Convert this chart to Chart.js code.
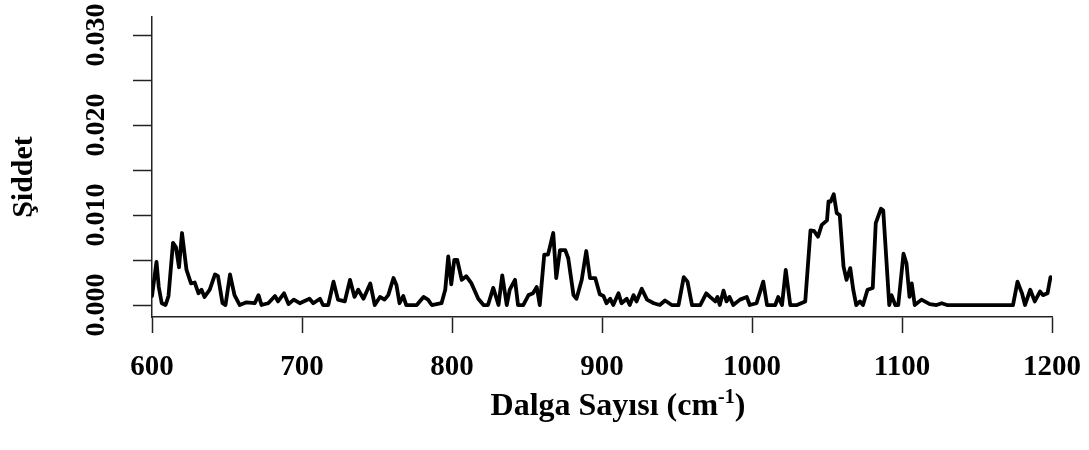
<!DOCTYPE html>
<html>
<head>
<meta charset="utf-8">
<script src="https://cdn.jsdelivr.net/npm/chart.js@4"></script>
<style>
    html, body { margin: 0; padding: 0; background: #ffffff; }
    #wrap { width: 1089px; height: 450px; }
</style>
</head>
<body>
<div id="wrap"><canvas id="spectrumChart" width="1089" height="450"></canvas></div>
<script>
// Spectrum samples: wavenumber (cm-1) and intensity
const wavenumber = [
    600, 603, 604.5, 606.5, 609, 611, 614, 616, 618, 620, 623, 626, 628.5, 631, 633, 635, 638.5, 642, 644, 647,
    649, 652, 655, 658.5, 663, 668.5, 671, 673, 677.5, 682, 684, 688, 691, 694.5, 698.5, 705, 707.5, 712, 714, 717.5,
    721, 724, 728.5, 732, 735, 737.5, 741, 745.5, 748.5, 752, 755, 757.5, 761, 763, 765, 767.5, 769.5, 776.5, 781, 784,
    786.5, 793, 795.5, 797.5, 799.5, 801.5, 803.5, 806.5, 809.5, 813, 817.5, 821, 824, 827.5, 831, 833.5, 836.5, 838.5, 842, 844,
    847.5, 851, 854, 856.5, 858.5, 861.5, 864, 867.5, 869.5, 872, 875.5, 877.5, 881, 883, 886.5, 889.5, 892, 895.5, 898.5, 901,
    903, 905.5, 907.5, 911, 913, 916.5, 918.5, 921, 923, 926.5, 930, 934.5, 938.5, 942, 946.5, 951, 954.5, 957, 960, 965.5,
    969.5, 972, 975.5, 977, 978.5, 981, 983, 985, 987.5, 992, 996.5, 998.5, 1003, 1007.5, 1010, 1015.5, 1017.5, 1020, 1022.5, 1025.5,
    1030, 1035.5, 1039, 1041.5, 1044, 1046.5, 1050, 1051, 1052.5, 1054.5, 1056.5, 1058.5, 1061, 1063, 1065.5, 1067.5, 1069.5, 1072, 1074, 1077,
    1080.5, 1082.5, 1086, 1087.5, 1091.5, 1093, 1095.5, 1097.5, 1101, 1103, 1105, 1106.5, 1108.5, 1113, 1118.5, 1123, 1126.5, 1130, 1174, 1177,
    1180, 1182, 1185.5, 1188.5, 1192, 1194, 1197, 1199
];
const intensity = [
    0.0010, 0.0048, 0.0020, 0.0002, 0.0000, 0.0010, 0.0069, 0.0064, 0.0042, 0.0080, 0.0039, 0.0024, 0.0025, 0.0013, 0.0017, 0.0009, 0.0017, 0.0034, 0.0032, 0.0002,
    0.0000, 0.0034, 0.0011, 0.0000, 0.0003, 0.0002, 0.0011, 0.0000, 0.0002, 0.0010, 0.0004, 0.0013, 0.0001, 0.0006, 0.0002, 0.0007, 0.0002, 0.0007, 0.0000, 0.0000,
    0.0026, 0.0006, 0.0004, 0.0028, 0.0009, 0.0017, 0.0007, 0.0024, 0.0000, 0.0009, 0.0006, 0.0011, 0.0030, 0.0022, 0.0002, 0.0010, 0.0000, 0.0000, 0.0009, 0.0006,
    0.0000, 0.0002, 0.0017, 0.0054, 0.0023, 0.0050, 0.0050, 0.0028, 0.0032, 0.0024, 0.0007, 0.0000, 0.0000, 0.0019, 0.0000, 0.0033, 0.0000, 0.0017, 0.0028, 0.0000,
    0.0000, 0.0011, 0.0013, 0.0020, 0.0000, 0.0056, 0.0056, 0.0080, 0.0030, 0.0061, 0.0061, 0.0052, 0.0011, 0.0007, 0.0028, 0.0060, 0.0030, 0.0030, 0.0012, 0.0010,
    0.0002, 0.0007, 0.0000, 0.0013, 0.0002, 0.0007, 0.0000, 0.0011, 0.0004, 0.0018, 0.0006, 0.0002, 0.0000, 0.0005, 0.0000, 0.0000, 0.0031, 0.0026, 0.0000, 0.0000,
    0.0013, 0.0009, 0.0004, 0.0009, 0.0000, 0.0016, 0.0004, 0.0009, 0.0000, 0.0006, 0.0009, 0.0000, 0.0002, 0.0026, 0.0000, 0.0000, 0.0009, 0.0000, 0.0039, 0.0000,
    0.0000, 0.0004, 0.0083, 0.0082, 0.0076, 0.0089, 0.0094, 0.0115, 0.0115, 0.0123, 0.0102, 0.0100, 0.0043, 0.0028, 0.0041, 0.0017, 0.0000, 0.0004, 0.0000, 0.0017,
    0.0019, 0.0091, 0.0107, 0.0105, 0.0000, 0.0011, 0.0000, 0.0000, 0.0057, 0.0046, 0.0009, 0.0024, 0.0000, 0.0006, 0.0001, 0.0000, 0.0002, 0.0000, 0.0000, 0.0026,
    0.0013, 0.0000, 0.0017, 0.0004, 0.0015, 0.0011, 0.0013, 0.0031
];

// Axis ticks
const xTicks = [600, 700, 800, 900, 1000, 1100, 1200];
const yTicks = [0, 0.005, 0.010, 0.015, 0.020, 0.025, 0.030];
const yTickLabels = ["0.000", "", "0.010", "", "0.020", "", "0.030"];

const xTitle = "Dalga Sayısı (cm";
const xTitleSup = "-1";
const yTitle = "Şiddet";

const SERIF = "'Liberation Serif', 'Times New Roman', serif";

// Rotated y labels and the axis titles are drawn by hand
const axisText = {
    id: "axisText",
    afterDraw(chart) {
        const ctx = chart.ctx;
        const y = chart.scales.y;
        ctx.save();
        ctx.fillStyle = "#000";

        // y tick labels, parallel to the axis
        ctx.font = "bold 28px " + SERIF;
        ctx.textAlign = "center";
        ctx.textBaseline = "middle";
        yTicks.forEach((v, i) => {
            if (!yTickLabels[i]) return;
            ctx.save();
            ctx.translate(97, y.getPixelForValue(v));
            ctx.rotate(-Math.PI / 2);
            ctx.fillText(yTickLabels[i], 0, 0);
            ctx.restore();
        });

        // y title
        ctx.font = "bold 30px " + SERIF;
        ctx.save();
        ctx.translate(24, 177);
        ctx.rotate(-Math.PI / 2);
        ctx.fillText(yTitle, 0, 0);
        ctx.restore();

        // x title with superscript
        const mainFont = "bold 32px " + SERIF;
        const supFont = "bold 20px " + SERIF;
        ctx.font = mainFont;
        const w1 = ctx.measureText(xTitle).width;
        const w3 = ctx.measureText(")").width;
        ctx.font = supFont;
        const w2 = ctx.measureText(xTitleSup).width;
        let x0 = 618 - (w1 + w2 + w3) / 2;
        const base = 415;
        ctx.textAlign = "left";
        ctx.textBaseline = "alphabetic";
        ctx.font = mainFont;
        ctx.fillText(xTitle, x0, base);
        ctx.font = supFont;
        ctx.fillText(xTitleSup, x0 + w1, base - 12);
        ctx.font = mainFont;
        ctx.fillText(")", x0 + w1 + w2, base);
        ctx.restore();
    }
};

const ctx = document.getElementById("spectrumChart").getContext("2d");

new Chart(ctx, {
    type: "line",
    data: {
        datasets: [
            {
                data: wavenumber.map((w, i) => ({ x: w, y: intensity[i] })),
                borderColor: "#000000",
                borderWidth: 3.8,
                pointRadius: 0,
                tension: 0,
                borderJoinStyle: "round",
                borderCapStyle: "round",
                fill: false,
            },
        ],
    },
    options: {
        responsive: false,
        animation: false,
        layout: { padding: { top: 17, right: 37, left: 0, bottom: 0 } },
        plugins: {
            legend: { display: false },
            tooltip: { enabled: false },
        },
        scales: {
            x: {
                type: "linear",
                min: 600,
                max: 1200,
                afterBuildTicks: (s) => { s.ticks = xTicks.map((v) => ({ value: v })); },
                afterFit: (s) => {
                    s.height = 133;
                    s.paddingLeft = 0;
                    s.paddingRight = 0;
                },
                border: { color: "#222", width: 1.5 },
                grid: {
                    drawOnChartArea: false,
                    drawTicks: true,
                    tickLength: 16,
                    tickWidth: 1.5,
                    tickColor: "#222",
                },
                ticks: {
                    color: "#000",
                    padding: 17,
                    maxRotation: 0,
                    font: { family: SERIF, size: 29, weight: "bold" },
                    callback: (v) => String(v),
                },
            },
            y: {
                type: "linear",
                min: -0.00133,
                max: 0.032,
                afterBuildTicks: (s) => { s.ticks = yTicks.map((v) => ({ value: v })); },
                afterFit: (s) => { s.width = 152; },
                border: { color: "#222", width: 1.5 },
                grid: {
                    drawOnChartArea: false,
                    drawTicks: true,
                    tickLength: 19,
                    tickWidth: 1.5,
                    tickColor: "#222",
                },
                ticks: { display: false },
            },
        },
    },
    plugins: [axisText],
});
</script>
</body>
</html>
